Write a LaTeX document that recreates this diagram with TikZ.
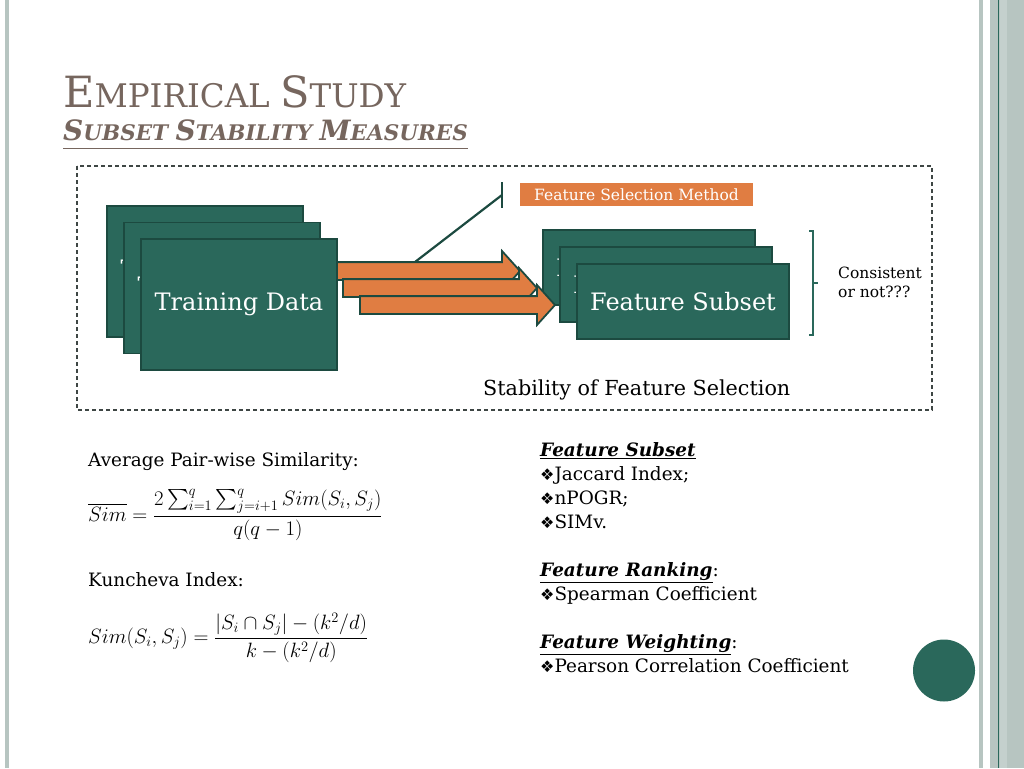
\documentclass[tikz,border=0pt]{standalone}
\usepackage{amsmath, amssymb}
\usepackage[no-math]{fontspec}
\setmainfont{DejaVu Serif}
\newfontfamily\dingfont{DejaVu Sans}
\usepackage{tikz}
\usetikzlibrary{positioning, shapes.arrows}
\usepackage{xcolor}

\definecolor{slidegreen}{RGB}{42,104,91}
\definecolor{boxline}{RGB}{28,74,64}
\definecolor{arroworange}{RGB}{224,125,66}
\definecolor{titlebrown}{RGB}{118,102,94}
\definecolor{stripe}{RGB}{183,197,193}
\definecolor{stripelight}{RGB}{196,208,205}
\definecolor{framegray}{RGB}{62,70,68}

\newcommand{\capword}[3]{{\fontsize{#1}{#1}\selectfont #2}#3}
\newcommand{\dia}{{\dingfont\fontsize{16}{16}\selectfont ❖}}

\begin{document}
\begin{tikzpicture}[x=1pt, y=-1pt,
    databox/.style={draw=boxline, fill=slidegreen, line width=1.5pt, text=white,
      minimum width=196pt, minimum height=131pt, inner sep=0pt, outer sep=0pt,
      font=\fontsize{24}{28}\selectfont},
    subsetbox/.style={databox, minimum width=212pt, minimum height=75pt},
    flowarrow/.style={single arrow, draw=boxline, fill=arroworange, line width=1.8pt,
      inner xsep=0pt, inner ysep=8pt, outer sep=0pt, single arrow head extend=11pt,
      single arrow tip angle=96, anchor=tail},
    callout/.style={draw=boxline, line width=2.2pt},
    plain/.style={anchor=base west, inner sep=0pt, font=\fontsize{18.4}{24}\selectfont}]
  \useasboundingbox (0,0) rectangle (1024,768);
  % slide decoration
  \fill[stripe] (5,0) rectangle (9,768);
  \fill[stripe] (979,0) rectangle (983,768);
  \fill[stripe] (990,0) rectangle (1024,768);
  \fill[stripelight] (1000,0) rectangle (1007,768);
  \draw[slidegreen, line width=1pt] (998.5,0) -- (998.5,768);
  \node[circle, fill=slidegreen, minimum size=62pt, inner sep=0pt] (dot) at (944,670.5) {};
  % title
  \node[anchor=base west, inner sep=0pt, text=titlebrown, font=\fontsize{32.5}{33}\selectfont]
    (title) at (63,107) {\capword{43}{E}{MPIRICAL} \capword{43}{S}{TUDY}};
  \node[anchor=base west, inner sep=0pt, text=titlebrown,
        font=\fontsize{21.5}{22}\selectfont\bfseries\itshape]
    (subtitle) at (63,140) {\capword{28}{S}{UBSET} \capword{28}{S}{TABILITY} \capword{28}{M}{EASURES}};
  \draw[titlebrown, line width=1.6pt] ([yshift=-8.5pt]subtitle.base west) -- ([yshift=-8.5pt]subtitle.base east);
  % frame
  \draw[framegray, line width=1.3pt, dash pattern=on 4pt off 3pt] (77,166) rectangle (932,410);
  % Training data stack
  \node[databox] (td1) at (205,271.5) {Training Data};
  \node[databox] (td2) at ([shift={(17,16.5)}]td1) {Training Data};
  \node[databox] (td3) at ([shift={(17,16.5)}]td2) {Training Data};
  % Feature subset stack
  \node[subsetbox] (fs1) at (649,267.5) {Feature Subset};
  \node[subsetbox] (fs2) at ([shift={(17,17)}]fs1) {Feature Subset};
  \node[subsetbox] (fs3) at ([shift={(17,17)}]fs2) {Feature Subset};
  % arrows between the stacks
  \node[flowarrow, minimum height=183pt] (ar1) at (337,271) {};
  \node[flowarrow, minimum height=194pt] (ar2) at (343,288) {};
  \node[flowarrow, minimum height=195pt] (ar3) at (360,305) {};
  % method callout
  \node[fill=arroworange, text=white, minimum width=233pt, minimum height=23pt, inner sep=0pt,
        font=\fontsize{15.5}{18}\selectfont] (method) at (636.5,194.5) {Feature Selection Method};
  \coordinate (callfoot) at (415,262);
  \coordinate (callknee) at (502,195);
  \coordinate (calltop) at (502,182);
  \coordinate (callbot) at (502,208);
  \draw[callout] (callfoot) -- (callknee);
  \draw[callout] (calltop) -- (callbot);
  % bracket
  \coordinate (brtop) at (809,231);
  \coordinate (brbot) at (809,335);
  \coordinate (brmid) at (813,283);
  \draw[slidegreen, line width=1.2pt] (brtop) -- ++(4,0) -- ++(0,104) -- (brbot);
  \draw[slidegreen, line width=1.2pt] (brmid) -- ++(5,0);
  \node[plain, align=left, font=\fontsize{15.5}{19}\selectfont] (cons) at (838,297) {Consistent\\or not???};
  \node[plain, font=\fontsize{20.7}{24}\selectfont] (stab) at (483,395) {Stability of Feature Selection};
  % measures
  \node[plain] (avg) at (88,466) {Average Pair-wise Similarity:};
  \node[anchor=west, inner sep=0pt, font=\fontsize{20.6}{24}\selectfont] (simavg) at (88,515)
    {$\displaystyle \overline{Sim}=\frac{2\sum_{i=1}^{q}\sum_{j=i+1}^{q}Sim(S_i,S_j)}{q(q-1)}$};
  \node[plain] (kun) at (88,586) {Kuncheva Index:};
  \node[anchor=west, inner sep=0pt, font=\fontsize{20.6}{24}\selectfont] (simkun) at (88,638)
    {$\displaystyle Sim(S_i,S_j)=\frac{|S_i\cap S_j|-(k^2/d)}{k-(k^2/d)}$};
  \node[plain, align=left] (kinds) at (540,672)
    {\underline{\textbf{\textit{Feature Subset}}}\\
     \dia Jaccard Index;\\
     \dia nPOGR;\\
     \dia SIMv.\\[24pt]
     \underline{\textbf{\textit{Feature Ranking}}}:\\
     \dia Spearman Coefficient\\[24pt]
     \underline{\textbf{\textit{Feature Weighting}}}:\\
     \dia Pearson Correlation Coefficient};
\end{tikzpicture}
\end{document}
